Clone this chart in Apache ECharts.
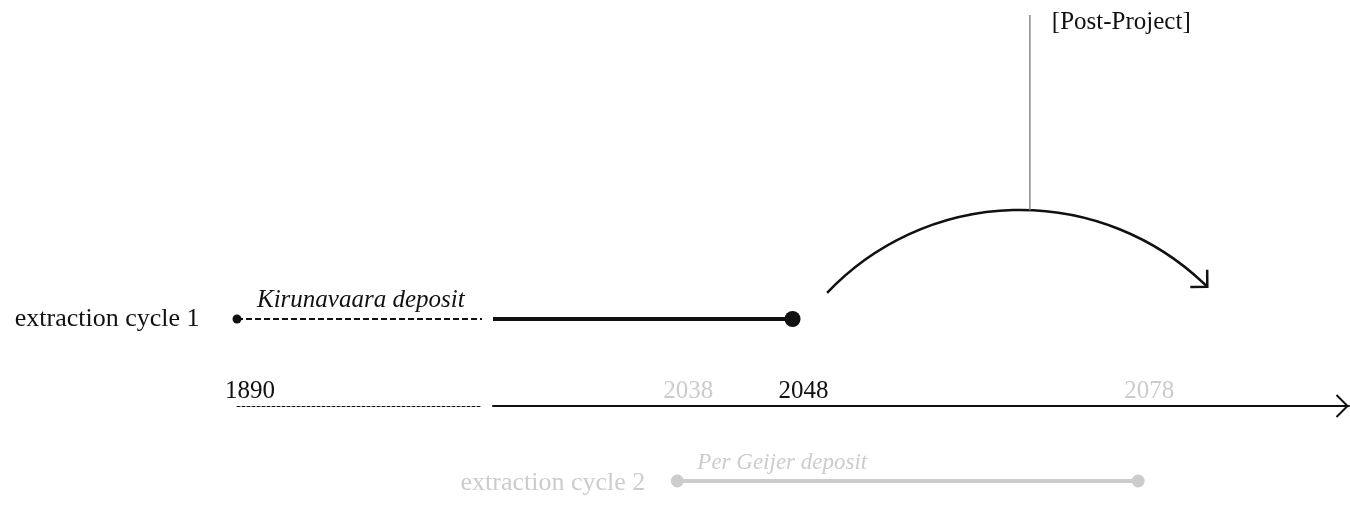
<!DOCTYPE html>
<html><head><meta charset="utf-8">
<script src="https://cdn.jsdelivr.net/npm/echarts@6/dist/echarts.min.js"></script>
<style>html,body{margin:0;padding:0;background:#fff}#c{width:1350px;height:506px}</style>
</head><body><div id="c"></div>
<script>
// ---- data ----
const cycleLabels = ['extraction cycle 1', 'extraction cycle 2'];
const depositLabels = ['Kirunavaara deposit', 'Per Geijer deposit'];
const cycle1Historic = [1890, 2020];
const cycle1Current = [2022, 2048];
const cycle2Years = [2038, 2078];
const historicTickYears = [1890];
const tickYears = [2038, 2048, 2078];
const emphasisYears = [1890, 2048];
const postProjectYears = [2051, 2068, 2084]; // arc start, crest, end
const postProjectMarkerYear = [2068.6];
const postProjectLabel = '[Post-Project]';

// ---- layout / style ----
const FONT = '"Liberation Serif", "Times New Roman", serif';
const FS = 25;
const INK = '#111111';
const FAINT = '#cccccc';
const LEVEL_C1 = 1, LEVEL_C2 = -0.862;
const ARC_LEVELS = [1.30, 2.253, 1.37];
const MARKER_TOP = 4.494;
const Y_MIN = 0, Y_MAX = 4.667;
const X_MAX = 2096.3;

const chart = echarts.init(document.getElementById('c'), null, {renderer: 'canvas'});

const labelColor = v => emphasisYears.includes(Number(v)) ? INK : FAINT;
const baseX = {
  type: 'value', splitLine: {show: false}, axisTick: {show: false}
};
const txt = {fontFamily: FONT, fontSize: FS};
const solid = {color: INK, opacity: 1};

const option = {
  animation: false,
  backgroundColor: '#ffffff',
  grid: [
    {left: 237, width: 245, top: 0, bottom: 100, outerBoundsMode: 'none'},
    {left: 493, right: 1, top: 0, bottom: 100, outerBoundsMode: 'none'}
  ],
  xAxis: [
    Object.assign({}, baseX, {
      gridIndex: 0, min: cycle1Historic[0], max: cycle1Historic[1],
      axisLine: {lineStyle: {color: INK, width: 1, type: [3, 2]}},
      axisLabel: Object.assign({inside: true, margin: 2, customValues: historicTickYears,
        showMinLabel: true, formatter: v => String(v), color: labelColor,
        padding: [0, 0, 0, 26]}, txt)
    }),
    Object.assign({}, baseX, {
      gridIndex: 1, min: cycle1Current[0], max: X_MAX,
      axisLine: {lineStyle: {color: INK, width: 2}},
      axisLabel: Object.assign({inside: true, margin: 2, customValues: tickYears,
        formatter: v => String(v), color: labelColor, padding: [0, 0, 0, 22]}, txt)
    })
  ],
  yAxis: [
    {type: 'value', gridIndex: 0, min: Y_MIN, max: Y_MAX, show: false},
    {type: 'value', gridIndex: 1, min: Y_MIN, max: Y_MAX, show: false}
  ],
  series: [
    // cycle 1, historic (dashed)
    {type: 'line', xAxisIndex: 0, yAxisIndex: 0, symbol: 'none', clip: false,
      data: cycle1Historic.map(y => [y, LEVEL_C1]),
      lineStyle: {color: INK, width: 2, type: [6, 3]}},
    {type: 'scatter', xAxisIndex: 0, yAxisIndex: 0, symbolSize: 9, clip: false,
      itemStyle: solid,
      data: [[cycle1Historic[0], LEVEL_C1]],
      label: Object.assign({show: true, position: 'left', distance: 33,
        formatter: cycleLabels[0], color: INK}, txt, {fontSize: 26})},
    {type: 'scatter', xAxisIndex: 0, yAxisIndex: 0, symbolSize: 2, clip: false,
      itemStyle: {color: 'rgba(0,0,0,0)', opacity: 1},
      data: [[cycle1Historic[0], LEVEL_C1]],
      label: Object.assign({show: true, position: 'right', distance: 19, offset: [0, -19],
        fontStyle: 'italic', formatter: depositLabels[0], color: INK}, txt)},
    // cycle 1, current (solid)
    {type: 'line', xAxisIndex: 1, yAxisIndex: 1, symbol: 'none', clip: false,
      data: cycle1Current.map(y => [y, LEVEL_C1]),
      lineStyle: {color: INK, width: 4}},
    {type: 'scatter', xAxisIndex: 1, yAxisIndex: 1, symbolSize: 16, clip: false,
      itemStyle: solid,
      data: [[cycle1Current[1], LEVEL_C1]]},
    // cycle 2
    {type: 'line', xAxisIndex: 1, yAxisIndex: 1, symbol: 'circle', symbolSize: 13, showSymbol: true,
      clip: false,
      data: cycle2Years.map(y => [y, LEVEL_C2]),
      itemStyle: {color: FAINT, opacity: 1}, lineStyle: {color: FAINT, width: 4}},
    {type: 'scatter', xAxisIndex: 1, yAxisIndex: 1, symbolSize: 2, clip: false,
      itemStyle: {color: 'rgba(0,0,0,0)', opacity: 1},
      data: [[cycle2Years[0], LEVEL_C2]],
      label: Object.assign({show: true, position: 'left', distance: 31, offset: [0, 2],
        formatter: cycleLabels[1], color: FAINT}, txt, {fontSize: 26})},
    {type: 'scatter', xAxisIndex: 1, yAxisIndex: 1, symbolSize: 2, clip: false,
      itemStyle: {color: 'rgba(0,0,0,0)', opacity: 1},
      data: [[cycle2Years[0], LEVEL_C2]],
      label: Object.assign({show: true, position: 'right', distance: 19, offset: [0, -18],
        fontStyle: 'italic', formatter: depositLabels[1], color: FAINT}, txt, {fontSize: 23})},
    // post-project arc, marker and label
    {type: 'custom', xAxisIndex: 1, yAxisIndex: 1,
      data: [postProjectYears.concat(postProjectMarkerYear)],
      renderItem(params, api) {
        const p0 = api.coord([api.value(0), ARC_LEVELS[0]]);
        const p1 = api.coord([api.value(1), ARC_LEVELS[1]]);
        const p2 = api.coord([api.value(2), ARC_LEVELS[2]]);
        const [ax, ay] = p0, [bx, by] = p1, [ex, ey] = p2;
        const d = 2 * (ax * (by - ey) + bx * (ey - ay) + ex * (ay - by));
        const A = ax * ax + ay * ay, B = bx * bx + by * by, C = ex * ex + ey * ey;
        const ux = (A * (by - ey) + B * (ey - ay) + C * (ay - by)) / d;
        const uy = (A * (ex - bx) + B * (ax - ex) + C * (bx - ax)) / d;
        const r = Math.hypot(ax - ux, ay - uy);
        const a0 = Math.atan2(ay - uy, ax - ux);
        const a1 = Math.atan2(ey - uy, ex - ux);
        const tx = -Math.sin(a1), ty = Math.cos(a1);
        const L = 17;
        const arm = ang => {
          const c = Math.cos(ang), s = Math.sin(ang), vx = -tx, vy = -ty;
          return [ex + L * (vx * c - vy * s), ey + L * (vx * s + vy * c)];
        };
        const mx = api.coord([api.value(3), 0])[0];
        const my = uy - Math.sqrt(Math.max(0, r * r - (mx - ux) * (mx - ux)));
        const top = api.coord([api.value(3), MARKER_TOP])[1];
        return {type: 'group', children: [
          {type: 'arc', shape: {cx: ux, cy: uy, r: r, startAngle: a0, endAngle: a1, clockwise: true},
            style: {stroke: INK, lineWidth: 2.5, fill: 'none'}},
          {type: 'polyline', shape: {points: [arm(Math.PI / 4), [ex, ey], arm(-Math.PI / 4)]},
            style: {stroke: INK, lineWidth: 2.5, fill: 'none'}},
          {type: 'line', shape: {x1: mx, y1: top, x2: mx, y2: my},
            style: {stroke: '#888888', lineWidth: 1.5}},
          {type: 'text', style: {text: postProjectLabel, x: mx + 22, y: top + 7,
            verticalAlign: 'middle', align: 'left', font: FS + 'px ' + FONT, fill: INK}}
        ]};
      }},
    // axis arrow head
    {type: 'custom', xAxisIndex: 1, yAxisIndex: 1, data: [[X_MAX, 0]],
      renderItem(params, api) {
        const p = api.coord([api.value(0), api.value(1)]);
        const x = p[0] - 1.5, y = p[1];
        return {type: 'polyline', shape: {points: [[x - 11, y - 11], [x, y], [x - 11, y + 11]]},
          style: {stroke: INK, lineWidth: 2, fill: 'none'}};
      }}
  ]
};
chart.setOption(option);
</script>
</body></html>
